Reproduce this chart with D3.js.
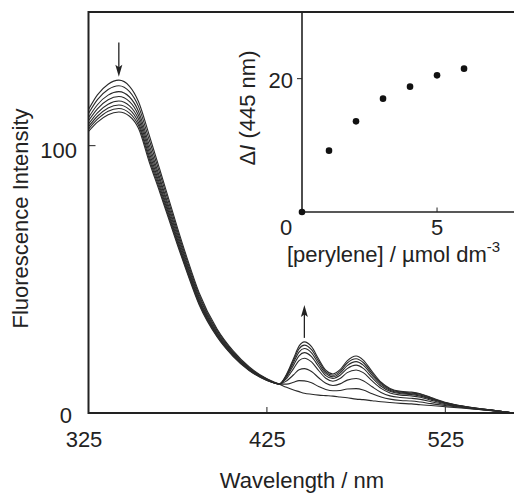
<!DOCTYPE html>
<html>
<head>
<meta charset="utf-8">
<script src="https://cdn.jsdelivr.net/npm/d3@7"></script>
<style>
  body { margin: 0; background: #fff; }
  text { font-family: "Liberation Sans", Arial, sans-serif; fill: #222; }
</style>
</head>
<body>
<svg id="canvas" width="514" height="494"></svg>
<script>
// wavelengths (nm) at which the spectra were read
var wavelengths = [325, 330, 336, 342, 348, 353, 359, 365, 370, 375, 380, 387, 397, 406, 415, 425,
    432, 436, 440, 443, 446, 450, 454, 458, 462, 466, 470, 475, 479, 484, 489, 494, 500, 506, 511, 517, 526, 540, 552, 563];

// one spectrum per perylene addition (0 = no perylene)
var spectrum0 = [113.5, 119.0, 123.0, 124.5, 122.2, 116.5, 104.0, 91.0, 80.0, 69.0, 58.5, 45.0, 31.5, 23.3, 17.3, 12.8,
    10.8, 9.6, 8.6, 8.0, 7.4, 7.0, 6.7, 6.5, 6.3, 6.0, 5.7, 5.2, 5.0, 4.6, 4.2, 3.9, 3.6, 3.4, 3.1, 2.8, 2.3, 1.5, 0.8, 0];
var spectrum1 = [112.0, 117.2, 121.0, 122.4, 120.2, 114.7, 102.2, 89.5, 78.7, 67.8, 57.5, 44.2, 31.0, 22.9, 17.0, 12.7,
    10.8, 10.8, 11.5, 12.1, 12.0, 11.3, 9.9, 8.8, 8.3, 8.4, 9.0, 9.1, 8.6, 7.2, 6.0, 5.2, 4.7, 4.5, 4.1, 3.5, 2.7, 1.6, 0.8, 0];
var spectrum2 = [110.5, 115.3, 118.9, 120.2, 118.2, 112.9, 100.4, 87.9, 77.3, 66.7, 56.5, 43.4, 30.4, 22.5, 16.8, 12.6,
    10.8, 12.0, 14.3, 16.2, 16.6, 15.5, 13.2, 11.1, 10.3, 10.9, 12.3, 12.9, 12.1, 9.8, 7.7, 6.4, 5.8, 5.5, 5.1, 4.2, 3.0, 1.7, 0.9, 0];
var spectrum3 = [109.3, 113.8, 117.2, 118.4, 116.5, 111.4, 98.9, 86.7, 76.2, 65.7, 55.7, 42.7, 30.0, 22.2, 16.6, 12.5,
    10.9, 12.9, 16.7, 19.6, 20.5, 19.1, 15.9, 13.0, 11.9, 12.9, 15.1, 16.1, 15.1, 12.0, 9.2, 7.5, 6.7, 6.4, 5.9, 4.8, 3.3, 1.8, 0.9, 0];
var spectrum4 = [108.1, 112.3, 115.5, 116.7, 114.9, 110.0, 97.5, 85.4, 75.1, 64.7, 54.9, 42.1, 29.5, 21.9, 16.4, 12.4,
    10.9, 13.5, 18.0, 21.4, 22.6, 21.1, 17.4, 14.0, 12.9, 14.1, 16.6, 17.9, 16.7, 13.2, 10.0, 8.1, 7.2, 6.9, 6.3, 5.2, 3.5, 1.9, 1.0, 0];
var spectrum5 = [107.1, 111.0, 114.1, 115.2, 113.5, 108.7, 96.2, 84.4, 74.2, 63.9, 54.2, 41.5, 29.2, 21.7, 16.2, 12.3,
    10.9, 13.9, 19.0, 22.8, 24.1, 22.5, 18.4, 14.8, 13.5, 14.9, 17.7, 19.2, 17.9, 14.1, 10.6, 8.5, 7.5, 7.2, 6.7, 5.4, 3.6, 1.9, 1.0, 0];
var spectrum6 = [106.2, 109.9, 112.9, 113.9, 112.2, 107.6, 95.1, 83.4, 73.3, 63.2, 53.6, 41.0, 28.8, 21.4, 16.1, 12.3,
    10.9, 14.2, 19.8, 24.0, 25.4, 23.7, 19.4, 15.4, 14.1, 15.6, 18.7, 20.3, 18.9, 14.8, 11.1, 8.9, 7.8, 7.5, 7.0, 5.6, 3.7, 2.0, 1.0, 0];
var spectrum7 = [105.3, 108.8, 111.6, 112.6, 111.0, 106.5, 94.0, 82.5, 72.5, 62.5, 53.0, 40.5, 28.5, 21.2, 15.9, 12.2,
    10.9, 14.5, 20.5, 25.0, 26.6, 24.8, 20.2, 16.0, 14.6, 16.2, 19.5, 21.3, 19.8, 15.5, 11.5, 9.2, 8.1, 7.8, 7.2, 5.8, 3.8, 2.0, 1.0, 0];

var xTicks = [325, 425, 525];
var yTicks = [0, 100];

// inset: intensity change at 445 nm vs perylene concentration
var perylene = [0, 1, 2, 3, 4, 5, 6];
var deltaI = [0, 9.2, 13.6, 17.0, 18.8, 20.5, 21.5];
var insetXTicks = [0, 5];
var insetYTicks = [20];

// arrows: [wavelength, from intensity, to intensity]
var arrows = [[342, 138.6, 125.8], [446, 28.1, 40.4]];

var canvas = d3.select('#canvas');
var ink = '#222';

var x = d3.scaleLinear().domain([325, 563.5]).range([88.5, 514]);
var y = d3.scaleLinear().domain([0, 150]).range([413, 12]);

var spectra = [spectrum0, spectrum1, spectrum2, spectrum3, spectrum4, spectrum5, spectrum6, spectrum7];

var line = d3.line()
    .x(function(d, i) { return x(wavelengths[i]); })
    .y(function(d) { return y(d); })
    .curve(d3.curveMonotoneX);

canvas.append('g')
    .selectAll('path')
    .data(spectra)
    .enter()
    .append('path')
    .attr('d', line)
    .attr('fill', 'none')
    .attr('stroke', '#2a2a2a')
    .attr('stroke-width', 1.1);

// main frame: left, bottom and top (right edge runs off the picture)
canvas.append('path')
    .attr('d', 'M' + x(563.5) + ',' + y(150) + 'H' + x(325) + 'V' + y(0) + 'H' + x(563.5))
    .attr('fill', 'none')
    .attr('stroke', ink)
    .attr('stroke-width', 2);

// ticks point inward
canvas.append('g')
    .selectAll('line')
    .data(xTicks.slice(1))
    .enter()
    .append('line')
    .attr('x1', function(d) { return x(d); })
    .attr('x2', function(d) { return x(d); })
    .attr('y1', y(0))
    .attr('y2', y(0) - 6)
    .attr('stroke', ink)
    .attr('stroke-width', 1);

canvas.append('g')
    .selectAll('line')
    .data(yTicks.slice(1))
    .enter()
    .append('line')
    .attr('x1', x(325))
    .attr('x2', x(325) + 7)
    .attr('y1', function(d) { return y(d); })
    .attr('y2', function(d) { return y(d); })
    .attr('stroke', ink)
    .attr('stroke-width', 1);

canvas.append('g')
    .selectAll('text')
    .data(xTicks)
    .enter()
    .append('text')
    .attr('x', function(d, i) { return x(d) + (i === 0 ? -4.5 : 0.5); })
    .attr('y', 447)
    .attr('text-anchor', 'middle')
    .attr('font-size', 22)
    .text(function(d) { return d; });

canvas.append('g')
    .selectAll('text')
    .data(yTicks)
    .enter()
    .append('text')
    .attr('x', function(d) { return d === 0 ? 72 : 77; })
    .attr('y', function(d) { return y(d) + (d === 0 ? 10 : 12.5); })
    .attr('text-anchor', 'end')
    .attr('font-size', 22)
    .text(function(d) { return d; });

canvas.append('text')
    .attr('x', 302)
    .attr('y', 488)
    .attr('text-anchor', 'middle')
    .attr('font-size', 22)
    .text('Wavelength / nm');

canvas.append('text')
    .attr('transform', 'translate(28,218.5) rotate(-90)')
    .attr('text-anchor', 'middle')
    .attr('font-size', 22)
    .text('Fluorescence Intensity');

// arrows
canvas.append('g')
    .selectAll('g')
    .data(arrows)
    .enter()
    .append('g')
    .each(function(d) {
        var g = d3.select(this);
        var ax = x(d[0]), y0 = y(d[1]), y1 = y(d[2]);
        var dir = y1 > y0 ? 1 : -1;
        g.append('line')
            .attr('x1', ax).attr('x2', ax)
            .attr('y1', y0).attr('y2', y1 - dir * 8)
            .attr('stroke', ink)
            .attr('stroke-width', 1.3);
        g.append('path')
            .attr('d', 'M' + ax + ',' + y1 + 'L' + (ax - 3.5) + ',' + (y1 - dir * 12) +
                'L' + ax + ',' + (y1 - dir * 9.5) + 'L' + (ax + 3.5) + ',' + (y1 - dir * 12) + 'Z')
            .attr('fill', ink);
    });

// inset
var ix = d3.scaleLinear().domain([0, 7.85]).range([302, 514]);
var iy = d3.scaleLinear().domain([0, 30]).range([212, 12]);

canvas.append('path')
    .attr('d', 'M' + ix(0) + ',' + iy(30) + 'V' + iy(0) + 'H' + ix(7.85))
    .attr('fill', 'none')
    .attr('stroke', ink)
    .attr('stroke-width', 1.6);

canvas.append('g')
    .selectAll('line')
    .data(insetXTicks.slice(1))
    .enter()
    .append('line')
    .attr('x1', function(d) { return ix(d); })
    .attr('x2', function(d) { return ix(d); })
    .attr('y1', iy(0))
    .attr('y2', iy(0) - 4.5)
    .attr('stroke', ink)
    .attr('stroke-width', 1);

canvas.append('g')
    .selectAll('line')
    .data(insetYTicks)
    .enter()
    .append('line')
    .attr('x1', ix(0))
    .attr('x2', ix(0) - 5)
    .attr('y1', function(d) { return iy(d); })
    .attr('y2', function(d) { return iy(d); })
    .attr('stroke', ink)
    .attr('stroke-width', 1);

canvas.append('g')
    .selectAll('text')
    .data(insetXTicks)
    .enter()
    .append('text')
    .attr('x', function(d) { return ix(d) + (d === 0 ? -16 : 0); })
    .attr('y', 235)
    .attr('text-anchor', 'middle')
    .attr('font-size', 22)
    .text(function(d) { return d; });

canvas.append('g')
    .selectAll('text')
    .data(insetYTicks)
    .enter()
    .append('text')
    .attr('x', 293)
    .attr('y', function(d) { return iy(d) + 9.5; })
    .attr('text-anchor', 'end')
    .attr('font-size', 22)
    .text(function(d) { return d; });

canvas.append('g')
    .selectAll('circle')
    .data(perylene)
    .enter()
    .append('circle')
    .attr('cx', function(d) { return ix(d); })
    .attr('cy', function(d, i) { return iy(deltaI[i]); })
    .attr('r', 3.3)
    .attr('fill', '#111');

var xl = canvas.append('text')
    .attr('x', 287)
    .attr('y', 262)
    .attr('font-size', 22);
xl.append('tspan').text('[perylene] / \u00b5mol dm');
xl.append('tspan').attr('dy', -10).attr('font-size', 15).text('-3');

var yl = canvas.append('text')
    .attr('transform', 'translate(255,108) rotate(-90)')
    .attr('text-anchor', 'middle')
    .attr('font-size', 22);
yl.append('tspan').text('\u0394');
yl.append('tspan').attr('font-style', 'italic').text('I');
yl.append('tspan').text(' (445 nm)');
</script>
</body>
</html>
